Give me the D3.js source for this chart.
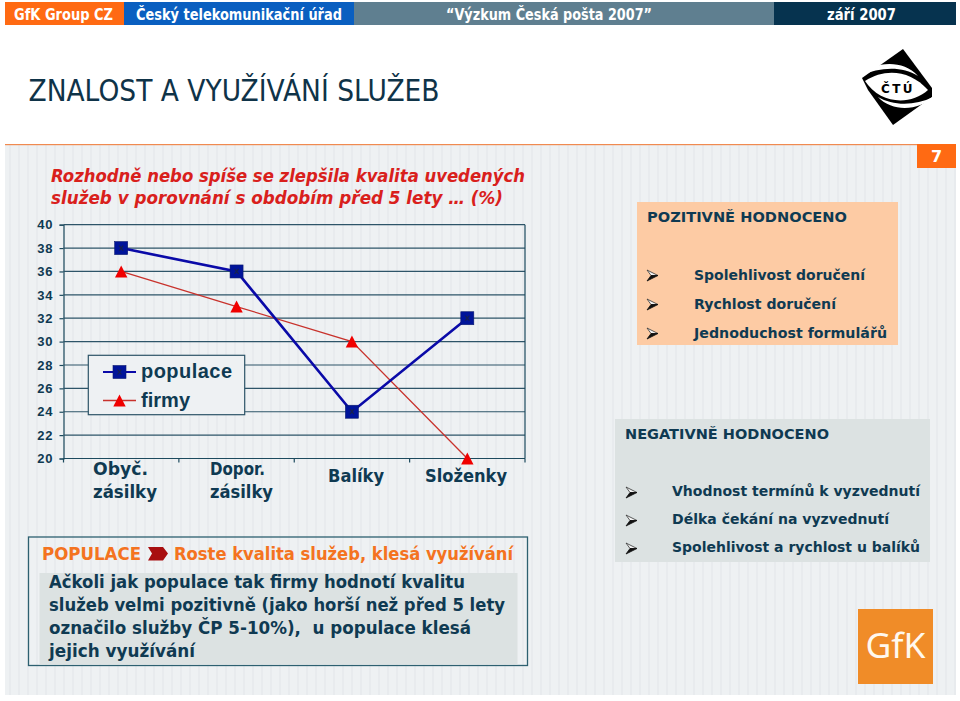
<!DOCTYPE html>
<html><head><meta charset="utf-8">
<script src="https://cdn.jsdelivr.net/npm/d3@7"></script>
<style>html,body{margin:0;padding:0;background:#fff}svg{display:block}text{font-family:"DejaVu Sans",sans-serif}</style>
</head><body><svg id="c" width="960" height="701"></svg>
<script>
const categories=[["Obyč.","zásilky"],["Dopor.","zásilky"],["Balíky"],["Složenky"]];
const populace=[38,36,24,32];
const firmy=[36,33,30,20];
const yTicks=d3.range(20,41,2);
const headerLabels=["GfK Group CZ","Český telekomunikační úřad","“Výzkum Česká pošta 2007”","září 2007"];
const positives=["Spolehlivost doručení","Rychlost doručení","Jednoduchost formulářů"];
const negatives=["Vhodnost termínů k vyzvednutí","Délka čekání na vyzvednutí","Spolehlivost a rychlost u balíků"];
const noteLines=["Ačkoli jak populace tak firmy hodnotí kvalitu","služeb velmi pozitivně (jako horší než před 5 lety","označilo služby ČP 5-10%),  u populace klesá","jejich využívání"];

const NAVY="#0f3a52";
const svg=d3.select("#c");
function T(x,y,s,size,fill,opt={}){
  const t=svg.append("text").attr("x",x).attr("y",y).text(s).attr("font-size",size).attr("fill",fill)
    .attr("font-weight",opt.w||"bold").attr("text-anchor",opt.a||"start").attr("xml:space","preserve");
  if(opt.f)t.style("font-family",opt.f);
  if(opt.i)t.attr("font-style","italic");
  if(opt.l){t.attr("textLength",opt.l).attr("lengthAdjust",opt.adj||"spacingAndGlyphs");}
  return t;
}
// background
const defs=svg.append("defs");
const pat=defs.append("pattern").attr("id","st").attr("patternUnits","userSpaceOnUse").attr("width",9).attr("height",9);
pat.append("rect").attr("width",9).attr("height",9).attr("fill","#eef1f3");
pat.append("rect").attr("width",2).attr("height",9).attr("fill","#e8ebee");
svg.append("rect").attr("x",5).attr("y",144).attr("width",951).attr("height",551).attr("fill","url(#st)");
svg.append("rect").attr("x",5).attr("y",144).attr("width",951).attr("height",1.2).attr("fill","#f08a50");
// header
[[5,119,"#ff6a13"],[124,230,"#0a5fc0"],[354,420,"#5f7f90"],[774,182,"#06334f"]].forEach(d=>
  svg.append("rect").attr("x",d[0]).attr("y",2).attr("width",d[1]).attr("height",23).attr("fill",d[2]));
T(14,20,headerLabels[0],15.5,"#fff",{l:99});
T(136,20,headerLabels[1],15.5,"#fff",{l:206});
T(446,20,headerLabels[2],15.5,"#fff",{l:206});
T(827,20,headerLabels[3],15.5,"#fff",{l:69});
T(28.5,100.5,"ZNALOST A VYUŽÍVÁNÍ SLUŽEB",30,"#0f3348",{w:"normal",l:411});
// page number
svg.append("rect").attr("x",917).attr("y",144).attr("width",39).attr("height",24).attr("fill","#ff6a13");
T(936.5,162,"7",16,"#fff",{a:"middle"});
// chart title
T(51,182,"Rozhodně nebo spíše se zlepšila kvalita uvedených",17.5,"#d9201c",{i:1,l:474});
T(51,204,"služeb v porovnání s obdobím před 5 lety … (%)",17.5,"#d9201c",{i:1,l:452});
// chart
const x=d3.scaleBand().domain(d3.range(categories.length)).range([63.5,525]);
const y=d3.scaleLinear().domain([20,40]).range([458.5,224.7]);
const g=svg.append("g");
const yAxis=g.append("g").attr("transform","translate(63.5,0)").call(d3.axisLeft(y).tickValues(yTicks).tickSize(4).tickFormat(d3.format("d")));
yAxis.selectAll("path,line").attr("stroke","#1c4a5e").attr("stroke-width",1.2);
yAxis.selectAll("text").attr("x",-10.5).attr("font-size",13).attr("letter-spacing",0.6).attr("fill",NAVY).attr("font-weight","bold").style("font-family","Liberation Sans");
g.append("g").selectAll("line").data(yTicks).join("line").attr("x1",63.5).attr("x2",525).attr("y1",d=>y(d)).attr("y2",d=>y(d)).attr("stroke","#2d5468").attr("stroke-width",1.2);
g.append("line").attr("x1",525).attr("x2",525).attr("y1",y(40)).attr("y2",y(20)).attr("stroke","#1c4a5e").attr("stroke-width",1.2);
const xAxis=g.append("g").attr("transform","translate(0,458.5)");
xAxis.append("line").attr("x1",63.5).attr("x2",525).attr("stroke","#1c4a5e").attr("stroke-width",1.2);
xAxis.selectAll(".t").data(d3.range(5)).join("line").attr("class","t").attr("x1",d=>63.5+d*x.step()).attr("x2",d=>63.5+d*x.step()).attr("y2",4).attr("stroke","#1c4a5e").attr("stroke-width",1.2);
const cx=i=>x(i)+x.bandwidth()/2;
const line=d3.line().x((d,i)=>cx(i)).y(d=>y(d));
g.append("path").datum(firmy).attr("d",line).attr("fill","none").attr("stroke","#c8322c").attr("stroke-width",1.3);
g.append("path").datum(populace).attr("d",line).attr("fill","none").attr("stroke","#0a0aa8").attr("stroke-width",2.6);
const tri=(px,py)=>`M${px},${py-6}L${px+6.2},${py+6}L${px-6.2},${py+6}Z`;
g.selectAll(".f").data(firmy).join("path").attr("class","f").attr("d",(d,i)=>tri(cx(i),y(d))).attr("fill","#f00000");
const square=(px,py)=>{
  const s=svg.append("g");
  s.append("rect").attr("x",px-6.5).attr("y",py-6.5).attr("width",13).attr("height",13).attr("fill","#00149a").attr("stroke","#0b1a6e").attr("stroke-width",.6);
  s.append("path").attr("d",`M${px-2},${py-2.5}L${px+2},${py+2.5}M${px+2},${py-2.5}L${px-2},${py+2.5}`).attr("stroke","#16224f").attr("stroke-width",1.2);
};
populace.forEach((d,i)=>square(cx(i),y(d)));
// x labels
const xw=[[55,64],[55,63],[56],[82]], xs=[93,210,328,425];
categories.forEach((c,i)=>{
  const base=c.length>1?474.5:482;
  c.forEach((s,k)=>T(xs[i],base+k*23.5,s,17.5,NAVY,{l:xw[i][k]}));
});
// legend
svg.append("rect").attr("x",88.3).attr("y",355.3).attr("width",156.4).attr("height",59.4).attr("fill","#eef1f3").attr("stroke","#2d5468").attr("stroke-width",1.2);
svg.append("line").attr("x1",103).attr("x2",136).attr("y1",372).attr("y2",372).attr("stroke","#0a0aa8").attr("stroke-width",2.2);
square(119.5,372);
svg.append("line").attr("x1",103).attr("x2",136).attr("y1",400.5).attr("y2",400.5).attr("stroke","#c8322c").attr("stroke-width",1.3);
svg.append("path").attr("d",tri(119.5,400.5)).attr("fill","#f00000");
T(141,378,"populace",20,NAVY,{f:"Liberation Sans",l:91,adj:"spacing"});
T(141,406.5,"firmy",20,NAVY,{f:"Liberation Sans",l:49,adj:"spacing"});
// note box
svg.append("rect").attr("x",28.5).attr("y",537).attr("width",499).attr("height",128.5).attr("fill","none").attr("stroke","#2d6070").attr("stroke-width",1.3);
svg.append("rect").attr("x",39.5).attr("y",573).attr("width",478).attr("height",91.5).attr("fill","#dce2e2");
T(42,560,"POPULACE",17.5,"#f47320",{l:99});
svg.append("path").attr("d","M148,547h15l5,6.5l-5,7h-15l4,-7Z").attr("fill","#a80f10");
T(174,560,"Roste kvalita služeb, klesá využívání",17.5,"#f47320",{l:339});
const nl=[416,456,422,146];
noteLines.forEach((s,i)=>T(49,588+i*23,s,17.5,NAVY,{l:nl[i]}));
// positive
svg.append("rect").attr("x",637).attr("y",202).attr("width",261).attr("height",143).attr("fill","#fdcba4");
T(647,222,"POZITIVNĚ HODNOCENO",14.5,NAVY,{l:200});
const plen=[171,142,193];
function bullet(bx,by){
  svg.append("path").attr("d",`M${bx},${by-9}L${bx+11},${by-3.5}L${bx+4},${by-3.5}Z`).attr("fill","#f4f4f4").attr("stroke","#333").attr("stroke-width",.8);
  svg.append("path").attr("d",`M${bx},${by+2}L${bx+11},${by-3.5}L${bx+4},${by-3.5}Z`).attr("fill","#111").attr("stroke","#111").attr("stroke-width",.8);
}
positives.forEach((s,i)=>{bullet(647,279+i*29);T(694,279.5+i*29,s,14.5,NAVY,{l:plen[i]});});
// negative
svg.append("rect").attr("x",615).attr("y",419).attr("width",315).attr("height",143).attr("fill","#dce2e2");
T(625,439,"NEGATIVNĚ HODNOCENO",14.5,NAVY,{l:204});
const nlen=[248,217,248];
negatives.forEach((s,i)=>{const by=496+i*28;bullet(626,by);T(672,by,s,14.5,NAVY,{l:nlen[i]});});
// GfK logo
svg.append("rect").attr("x",858).attr("y",609).attr("width",75).attr("height",75).attr("fill","#f08c28");
T(895.5,657.5,"GfK",35,"#fff8ee",{a:"middle",w:"normal",l:60,f:"Noto Sans"});
// CTU logo
const L=svg.append("g");
L.append("path").attr("d","M903,49L932,88L932,97L893,125L868,90L862,78Z").attr("fill","#000");
L.append("path").attr("d","M860,76C872,62 902,58 918,76C902,66 880,67 860,76Z").attr("fill","#fff");
L.append("path").attr("d","M933,97C920,110 893,113 878,97C893,106 915,106 933,97Z").attr("fill","#fff");
L.append("path").attr("d","M865,81C885,68 910,70 928,90C910,106 880,104 865,81Z").attr("fill","#fff");
L.append("text").attr("x",898).attr("y",93).attr("text-anchor","middle").attr("font-size",12).attr("font-weight","bold").attr("letter-spacing",2.5).text("ČTÚ");
</script></body></html>
